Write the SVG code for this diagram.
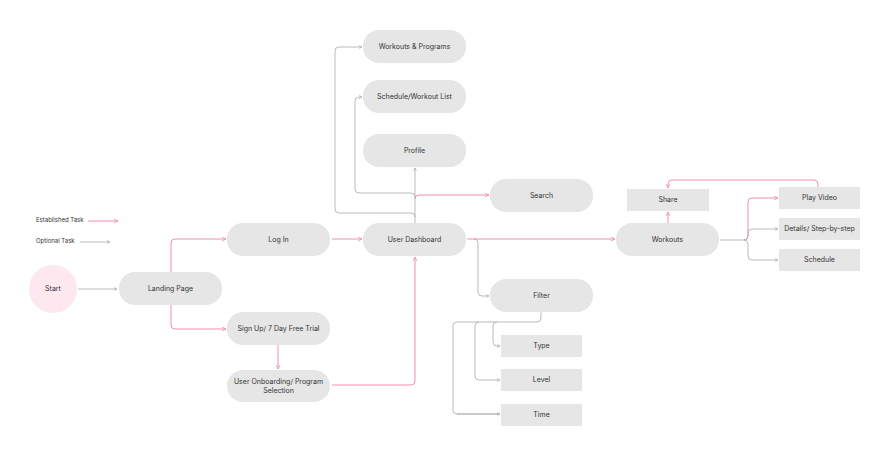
<svg xmlns="http://www.w3.org/2000/svg" width="890" height="456" viewBox="0 0 890 456">
<style>
.n{fill:#e6e6e6}
.t{font-family:Inter,"Liberation Sans",sans-serif;font-size:7px;fill:#333;text-anchor:middle}
.p{fill:none;stroke:#f08db3;stroke-width:1}
.g{fill:none;stroke:#aaa;stroke-width:0.8}
</style>
<defs>
<marker id="ap" viewBox="0 0 6 6" refX="5" refY="3" markerWidth="5" markerHeight="5" orient="auto"><path d="M0,0.5L5,3L0,5.5" fill="none" stroke="#f08db3"/></marker>
<marker id="ag" viewBox="0 0 6 6" refX="5" refY="3" markerWidth="5" markerHeight="5" orient="auto"><path d="M0,0.5L5,3L0,5.5" fill="none" stroke="#aaa"/></marker>
</defs>
<rect width="890" height="456" fill="#fff"/>
<text class="t" x="36" y="222" style="text-anchor:start;font-size:6px">Established Task</text>
<text class="t" x="36" y="243" style="text-anchor:start;font-size:6px">Optional Task</text>
<g id="connectors">
<path class="p" marker-end="url(#ap)" d="M88,221H118"/>
<path class="g" marker-end="url(#ag)" d="M80,242H110"/>
<path class="g" marker-end="url(#ag)" d="M78,289H117"/>
<path class="p" marker-end="url(#ap)" d="M171,272V243Q171,239 175,239H226"/>
<path class="p" marker-end="url(#ap)" d="M171,305V325Q171,329 175,329H226"/>
<path class="p" marker-end="url(#ap)" d="M332,239H362"/>
<path class="p" marker-end="url(#ap)" d="M278,345V369"/>
<path class="p" marker-end="url(#ap)" d="M332,385H411Q415,385 415,381V257"/>
<path class="g" marker-end="url(#ag)" d="M415,223V168"/>
<path class="g" marker-end="url(#ag)" d="M415,217Q415,213 411,213H339Q335,213 335,209V51Q335,47 339,47H362"/>
<path class="g" marker-end="url(#ag)" d="M415,197Q415,193 411,193H359Q355,193 355,189V101Q355,97 359,97H362"/>
<path class="p" marker-end="url(#ap)" d="M415,199Q415,195 419,195H489"/>
<path class="p" marker-end="url(#ap)" d="M467,239H615"/>
<path class="g" marker-end="url(#ag)" d="M474,239Q478,239 478,243V292Q478,296 482,296H489"/>
<path class="g" d="M541,312V318Q541,322 537,322H457Q453,322 453,326V410Q453,414 457,414H500"/>
<path class="g" marker-end="url(#ag)" d="M479,322Q475,322 475,326V376Q475,380 479,380H500"/>
<path class="g" marker-end="url(#ag)" d="M497,322Q493,322 493,326V342Q493,346 497,346H500"/>
<path class="g" marker-end="url(#ag)" d="M457,414H500"/>
<path class="p" marker-end="url(#ap)" d="M668,223V212"/>
<path class="p" marker-end="url(#ap)" d="M818,187V184Q818,180 814,180H672Q668,180 668,184V188"/>
<path class="g" d="M720,240H744"/>
<path class="p" marker-end="url(#ap)" d="M744,240Q748,240 748,236V202Q748,198 752,198H778"/>
<path class="g" marker-end="url(#ag)" d="M744,240Q748,240 748,236V233Q748,229 752,229H778"/>
<path class="g" marker-end="url(#ag)" d="M744,240Q748,240 748,244V256Q748,260 752,260H778"/>
</g>
<g id="start"><circle cx="53" cy="289" r="24" fill="#fde8ef"/><text class="t" x="53" y="291">Start</text></g>
<g id="landing"><rect class="n" x="119" y="272" width="103" height="33" rx="16"/><text class="t" x="170.5" y="291">Landing Page</text></g>
<g id="login"><rect class="n" x="227" y="223" width="103" height="33" rx="16"/><text class="t" x="278.5" y="242">Log In</text></g>
<g id="signup"><rect class="n" x="227" y="312" width="103" height="33" rx="16"/><text class="t" x="278.5" y="331">Sign Up/ 7 Day Free Trial</text></g>
<g id="onboarding"><rect class="n" x="227" y="370" width="103" height="32" rx="16"/><text class="t" x="278.5" y="384">User Onboarding/ Program</text><text class="t" x="278.5" y="393">Selection</text></g>
<g id="dashboard"><rect class="n" x="363" y="223" width="103" height="33" rx="16"/><text class="t" x="414.5" y="242">User Dashboard</text></g>
<g id="workouts-programs"><rect class="n" x="363" y="30" width="103" height="33" rx="16"/><text class="t" x="414.5" y="49">Workouts &amp; Programs</text></g>
<g id="schedule-list"><rect class="n" x="363" y="80" width="103" height="33" rx="16"/><text class="t" x="414.5" y="99">Schedule/Workout List</text></g>
<g id="profile"><rect class="n" x="363" y="134" width="103" height="33" rx="16"/><text class="t" x="414.5" y="153">Profile</text></g>
<g id="search"><rect class="n" x="490" y="179" width="103" height="33" rx="16"/><text class="t" x="541.5" y="198">Search</text></g>
<g id="filter"><rect class="n" x="490" y="279" width="103" height="33" rx="16"/><text class="t" x="541.5" y="298">Filter</text></g>
<g id="type"><rect class="n" x="501" y="335" width="81" height="22"/><text class="t" x="541.5" y="348">Type</text></g>
<g id="level"><rect class="n" x="501" y="369" width="81" height="22"/><text class="t" x="541.5" y="382">Level</text></g>
<g id="time"><rect class="n" x="501" y="404" width="81" height="22"/><text class="t" x="541.5" y="417">Time</text></g>
<g id="workouts"><rect class="n" x="616" y="223" width="103" height="33" rx="16"/><text class="t" x="667.5" y="242">Workouts</text></g>
<g id="share"><rect class="n" x="627" y="189" width="82" height="22"/><text class="t" x="668" y="202">Share</text></g>
<g id="play"><rect class="n" x="779" y="187" width="81" height="22"/><text class="t" x="819.5" y="200">Play Video</text></g>
<g id="details"><rect class="n" x="779" y="218" width="81" height="22"/><text class="t" x="819.5" y="231">Details/ Step-by-step</text></g>
<g id="schedule"><rect class="n" x="779" y="249" width="81" height="22"/><text class="t" x="819.5" y="262">Schedule</text></g>
</svg>
